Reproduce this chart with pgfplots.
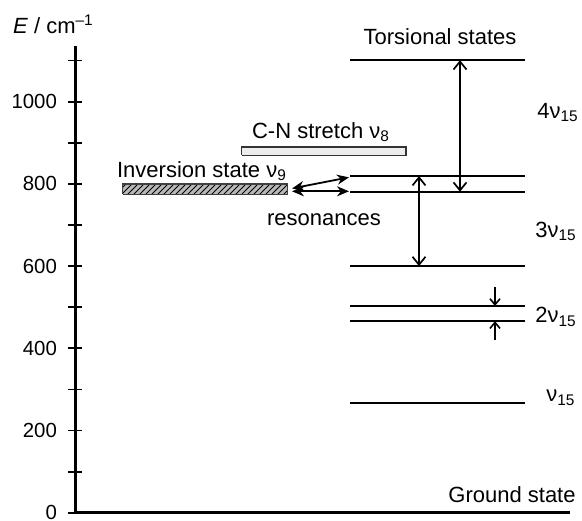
\documentclass[border=0pt]{standalone}
\usepackage{fontspec}
\setmainfont{Liberation Sans}
\usepackage{pgfplots}
\pgfplotsset{compat=1.18}
\usetikzlibrary{patterns,arrows.meta}
\newcommand\lab{\fontsize{11}{13}\selectfont}
\begin{document}
\begin{tikzpicture}
\useasboundingbox (0,0) rectangle (291pt,260pt);
\begin{axis}[
  at={(37.5pt,3.65pt)}, anchor=south west,
  x=0.5pt, y=0.2055pt,
  xmin=75, xmax=570, ymin=0, ymax=1135,
  axis x line=bottom, axis y line=left,
  axis line style={-, line width=1.5pt},
  xtick=\empty,
  ytick={0,200,400,600,800,1000},
  minor ytick={100,300,500,700,900,1100},
  tick align=center, major tick length=7pt, minor tick length=7pt,
  tick style={black, line width=0.9pt},
  yticklabel style={font=\fontsize{10.2}{12}\selectfont, xshift=-2pt},
  /pgf/number format/assume math mode=true,
  /pgf/number format/1000 sep={},
  clip=false,
]
% energy levels
\addplot[black, line width=1.1pt] coordinates {(350,1101) (525,1101)};
\addplot[black, line width=1.1pt] coordinates {(350,819) (525,819)};
\addplot[black, line width=1.1pt] coordinates {(350,781) (525,781)};
\addplot[black, line width=1.1pt] coordinates {(350,600) (525,600)};
\addplot[black, line width=0.9pt] coordinates {(350,503) (525,503)};
\addplot[black, line width=0.9pt] coordinates {(350,466) (525,466)};
\addplot[black, line width=1.1pt] coordinates {(350,266) (525,266)};
% bars
\addplot[fill=gray!15, draw=black!80, line width=0.6pt] coordinates {(241.7,870) (406,870) (406,890) (241.7,890) (241.7,870)};
\addplot[fill=gray!55, draw=none] coordinates {(122.7,775) (287.3,775) (287.3,800) (122.7,800) (122.7,775)};
\addplot[pattern=north east lines, pattern color=black, draw=black!75, line width=0.6pt] coordinates {(122.7,775) (287.3,775) (287.3,800) (122.7,800) (122.7,775)};
% resonance arrows
\addplot[black, line width=0.9pt, {Stealth[length=6pt,width=5pt]}-{Stealth[length=6pt,width=5pt]}] coordinates {(292,789) (349,816)};
\addplot[black, line width=0.9pt, {Stealth[length=6pt,width=5pt]}-{Stealth[length=6pt,width=5pt]}] coordinates {(292,782) (349,782)};
% vertical arrows
\addplot[black, line width=0.85pt, {Straight Barb[length=4pt,width=6.5pt]}-{Straight Barb[length=4pt,width=6.5pt]}] coordinates {(460,781) (460,1101)};
\addplot[black, line width=0.85pt, {Straight Barb[length=4pt,width=6.5pt]}-{Straight Barb[length=4pt,width=6.5pt]}] coordinates {(419,600) (419,819)};
\addplot[black, line width=0.8pt, -{Straight Barb[length=3pt,width=5pt]}] coordinates {(495,548) (495,503)};
\addplot[black, line width=0.8pt, -{Straight Barb[length=3pt,width=5pt]}] coordinates {(495,420) (495,466)};
% labels
\node[anchor=base west, inner sep=0pt, font=\lab] at (axis cs:12.7,1167) {\textit{E} / cm\textsuperscript{–1}};
\node[anchor=base, inner sep=0pt, font=\lab] at (axis cs:440,1138) {Torsional states};
\node[anchor=base west, inner sep=0pt, font=\lab] at (axis cs:537,959.6) {4ν\textsubscript{15}};
\node[anchor=base west, inner sep=0pt, font=\lab] at (axis cs:535,670) {3ν\textsubscript{15}};
\node[anchor=base west, inner sep=0pt, font=\lab] at (axis cs:535,462) {2ν\textsubscript{15}};
\node[anchor=base west, inner sep=0pt, font=\lab] at (axis cs:546,270) {ν\textsubscript{15}};
\node[anchor=base east, inner sep=0pt, font=\lab] at (axis cs:576,24) {Ground state};
\node[anchor=base west, inner sep=0pt, font=\lab] at (axis cs:251.7,911) {C-N stretch ν\textsubscript{8}};
\node[anchor=base west, inner sep=0pt, font=\lab] at (axis cs:116.7,816) {Inversion state ν\textsubscript{9}};
\node[anchor=base west, inner sep=0pt, font=\lab] at (axis cs:266.7,697.6) {resonances};
\end{axis}
\end{tikzpicture}
\end{document}
